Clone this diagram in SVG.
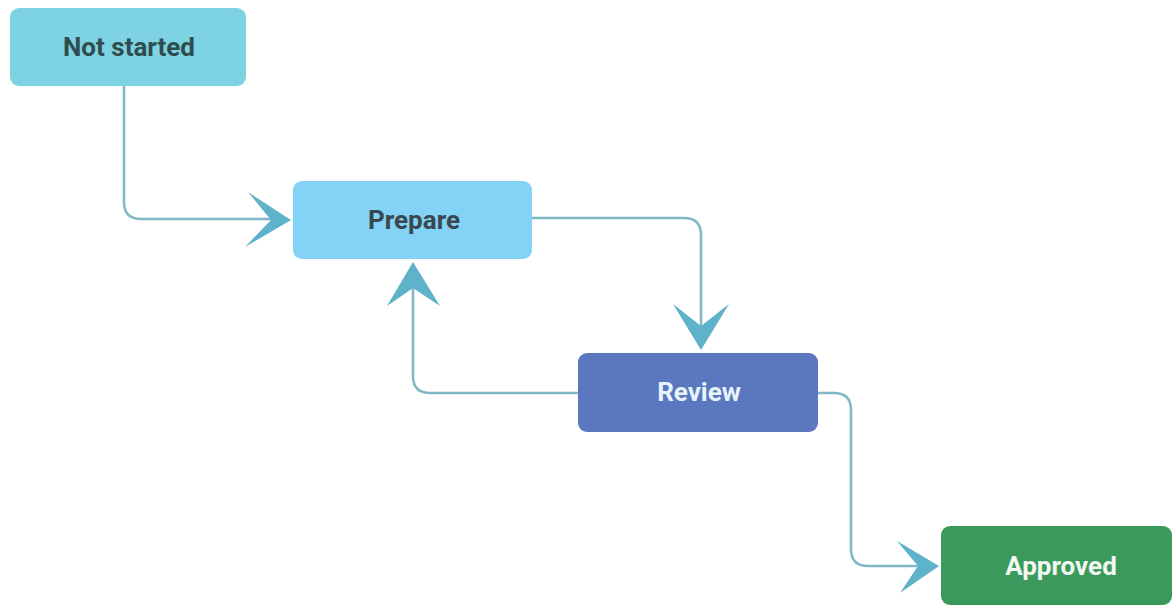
<svg xmlns="http://www.w3.org/2000/svg" width="1172" height="606" viewBox="0 0 1172 606">
<defs>
<style>
.node{stroke:none}
.lbl{font-family:Roboto,"Liberation Sans",sans-serif;font-weight:bold;font-size:26px;text-anchor:middle;dominant-baseline:central}
.conn{fill:none;stroke:#7fb9c6;stroke-width:2.5}
.head{fill:#5eb2c9}
</style>
</defs>
<rect width="1172" height="606" fill="#ffffff"/>
<g id="node-not-started">
<rect class="node" x="10" y="8" width="236" height="78" rx="9" fill="#7dd3e1"/>
<text class="lbl" x="129" y="47" fill="#2f4d4f">Not started</text>
</g>
<g id="node-prepare">
<rect class="node" x="293" y="181" width="239" height="78" rx="9" fill="#82d3f5"/>
<text class="lbl" x="414" y="220" fill="#3a4750">Prepare</text>
</g>
<g id="node-review">
<rect class="node" x="578" y="353" width="240" height="79" rx="9" fill="#5b77bf"/>
<text class="lbl" x="699" y="392" fill="#e6f3fb">Review</text>
</g>
<g id="node-approved">
<rect class="node" x="941" y="526" width="231" height="79" rx="9" fill="#3b9a5b"/>
<text class="lbl" x="1061" y="566" fill="#f2f8f2">Approved</text>
</g>
<g id="connectors">
<path class="conn" d="M124 86 V202 Q124 219 141 219 H275"/>
<path class="head" d="M291 220 L248 192 L271 220 L245 247 Z"/>
<path class="conn" d="M532 218 H684 Q701 218 701 235 V330"/>
<path class="head" d="M701 350 L673 304 L701 326 L729 304 Z"/>
<path class="conn" d="M578 393 H430 Q413 393 413 376 V285"/>
<path class="head" d="M413 262 L387 306 L413 288 L440 306 Z"/>
<path class="conn" d="M818 393 H834 Q851 393 851 410 V549 Q851 566 868 566 H920"/>
<path class="head" d="M939 566 L897 541 L918 566 L900 593 Z"/>
</g>
</svg>
